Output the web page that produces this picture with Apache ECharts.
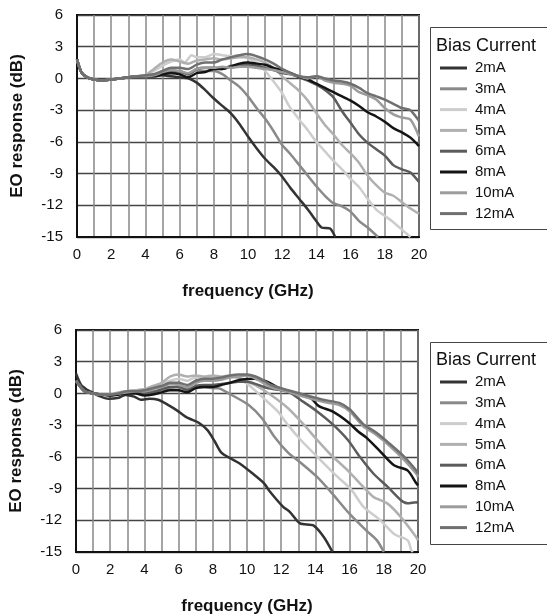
<!DOCTYPE html>
<html><head><meta charset="utf-8">
<script src="https://cdn.jsdelivr.net/npm/echarts@6/dist/echarts.min.js"></script>
<style>html,body{margin:0;padding:0;background:#fff}#c{width:547px;height:616px}</style>
</head><body><div id="c"></div>
<script>
const names = ['2mA','3mA','4mA','5mA','6mA','8mA','10mA','12mA'];
const colors = ['#333333','#8a8a8a','#cdcdcd','#b0b0b0','#5c5c5c','#141414','#9c9c9c','#707070'];
const xTicks = [0,2,4,6,8,10,12,14,16,18,20];
const yTicks = [-15,-12,-9,-6,-3,0,3,6];

// top panel [GHz, dB]
const top2mA = [[0,1.8],[0.25,0.6],[0.6,0.1],[1,-0.1],[1.5,-0.2],[2,-0.1],[2.5,0],[3,0.1],[3.5,0.2],[4,0.2],[4.5,0.2],[5,0.3],[5.5,0.2],[6,0.1],[6.5,0.0],[7,-0.4],[7.5,-1.1],[8,-1.9],[8.5,-2.6],[9,-3.3],[9.5,-4.3],[10,-5.5],[10.5,-6.6],[11,-7.6],[11.5,-8.4],[12,-9.3],[12.5,-10.4],[13,-11.4],[13.5,-12.4],[14,-13.5],[14.3,-14.1],[14.8,-14.2],[15.1,-15]];
const top3mA = [[0,1.8],[0.25,0.6],[0.6,0.1],[1,-0.1],[1.5,-0.2],[2,-0.1],[2.5,0],[3,0.1],[3.5,0.2],[4,0.2],[4.5,0.4],[5,0.5],[5.5,0.6],[6,0.6],[6.5,0.4],[7,0.8],[7.5,0.7],[8,0.7],[8.5,0.4],[9,-0.2],[9.5,-0.8],[10,-1.7],[10.5,-2.8],[11,-3.8],[11.5,-5.0],[12,-6.3],[12.5,-7.2],[13,-8.2],[13.5,-9.2],[14,-10.2],[14.5,-11.1],[15,-11.8],[15.5,-12.1],[16,-12.6],[16.5,-13.5],[17,-14.1],[17.6,-15]];
const top4mA = [[0,1.8],[0.25,0.6],[0.6,0.1],[1,-0.1],[1.5,-0.2],[2,-0.1],[2.5,0],[3,0.1],[3.5,0.2],[4,0.3],[4.5,0.7],[5,1.2],[5.5,1.6],[6,1.8],[6.3,1.5],[6.7,2.2],[7,2.0],[7.5,2.0],[8,2.3],[8.5,2.2],[9,2.1],[9.5,2.2],[10,1.9],[10.5,1.5],[11,0.7],[11.5,-0.3],[12,-1.4],[12.4,-2.6],[13,-3.9],[13.5,-4.9],[14,-6.0],[14.5,-6.9],[15,-7.8],[15.5,-8.6],[16,-9.5],[16.5,-10.3],[17,-11.4],[17.5,-12.4],[18,-13.0],[18.5,-13.6],[19,-14.3],[19.5,-15]];
const top5mA = [[0,1.8],[0.25,0.6],[0.6,0.1],[1,-0.1],[1.5,-0.2],[2,-0.1],[2.5,0],[3,0.1],[3.5,0.2],[4,0.3],[4.5,0.9],[5,1.5],[5.5,1.8],[6,1.6],[6.5,1.4],[7,1.7],[7.5,1.8],[8,1.9],[8.5,1.8],[9,1.9],[9.5,2.0],[10,2.0],[10.5,1.8],[11,1.5],[11.5,1.0],[12,0.2],[12.5,-0.5],[13,-1.2],[13.5,-2.1],[14,-3.3],[14.5,-4.4],[15,-5.3],[15.5,-6.3],[16,-7.1],[16.5,-8.0],[17,-9.2],[17.5,-10.1],[18,-10.8],[18.5,-11.1],[19,-11.7],[19.5,-12.3],[20,-12.8]];
const top6mA = [[0,1.8],[0.25,0.6],[0.6,0.1],[1,-0.1],[1.5,-0.2],[2,-0.1],[2.5,0],[3,0.1],[3.5,0.1],[4,0.1],[4.5,0.3],[5,0.5],[5.5,0.6],[6,0.7],[6.5,0.4],[7,0.9],[7.5,1.0],[8,1.0],[8.5,0.9],[9,1.2],[9.5,1.3],[10,1.3],[10.5,1.2],[11,1.0],[11.5,0.8],[12,0.5],[12.5,0.4],[13,0.1],[13.5,-0.2],[14,-0.6],[14.5,-1.1],[15,-1.8],[15.5,-3.1],[16,-4.2],[16.5,-5.3],[17,-6.1],[17.5,-6.7],[18,-7.3],[18.5,-8.2],[19,-8.6],[19.5,-8.9],[20,-9.8]];
const top8mA = [[0,1.8],[0.25,0.6],[0.6,0.1],[1,-0.1],[1.5,-0.2],[2,-0.1],[2.5,0],[3,0.1],[3.5,0.2],[4,0.2],[4.5,0.2],[5,0.4],[5.5,0.5],[6,0.4],[6.5,0.1],[7,0.5],[7.5,0.6],[8,0.9],[8.5,0.9],[9,1.1],[9.5,1.4],[10,1.5],[10.5,1.4],[11,1.3],[11.5,1.0],[12,0.8],[12.5,0.5],[13,0.15],[13.5,-0.1],[14,-0.5],[14.5,-0.9],[15,-1.3],[15.5,-1.7],[16,-2.1],[16.5,-2.6],[17,-3.2],[17.5,-3.6],[18,-4.1],[18.5,-4.7],[19,-5.1],[19.5,-5.6],[20,-6.4]];
const top10mA = [[0,1.8],[0.25,0.6],[0.6,0.1],[1,-0.1],[1.5,-0.2],[2,-0.1],[2.5,0],[3,0.1],[3.5,0.2],[4,0.2],[4.5,0.3],[5,0.6],[5.5,0.8],[6,0.7],[6.5,0.5],[7,0.9],[7.5,1.0],[8,1.0],[8.5,1.1],[9,1.0],[9.5,1.1],[10,1.1],[10.5,1.0],[11,0.9],[11.5,0.8],[12,0.6],[12.5,0.4],[13,0.2],[13.5,0.0],[14,0.2],[14.5,-0.2],[15,-0.4],[15.5,-0.5],[16,-0.7],[16.5,-1.3],[17,-1.6],[17.5,-2.0],[18,-2.8],[18.5,-3.4],[19,-3.7],[19.5,-3.9],[20,-5.5]];
const top12mA = [[0,1.8],[0.25,0.6],[0.6,0.1],[1,-0.1],[1.5,-0.2],[2,-0.1],[2.5,0],[3,0.1],[3.5,0.2],[4,0.3],[4.5,0.4],[5,0.7],[5.5,1.0],[6,1.0],[6.5,0.9],[7,1.3],[7.5,1.5],[8,1.5],[8.5,1.8],[9,2.0],[9.5,2.2],[10,2.3],[10.5,2.1],[11,1.8],[11.5,1.4],[12,0.9],[12.5,0.5],[13,0.2],[13.5,0.1],[14,0.2],[14.5,0.0],[15,-0.2],[15.5,-0.3],[16,-0.5],[16.5,-0.9],[17,-1.4],[17.5,-1.7],[18,-2.0],[18.5,-2.4],[19,-2.8],[19.5,-3.0],[20,-4.0]];

// bottom panel [GHz, dB]
const bot2mA = [[0,1.9],[0.3,0.8],[0.6,0.4],[0.9,0.15],[1.3,-0.2],[1.9,-0.5],[2.5,-0.4],[2.9,-0.15],[3.4,-0.3],[3.8,-0.6],[4.3,-0.5],[4.8,-0.6],[5.4,-1.1],[5.9,-1.6],[6.4,-2.2],[6.8,-2.5],[7.2,-2.8],[7.7,-3.5],[8.1,-4.5],[8.5,-5.6],[9.1,-6.2],[9.55,-6.6],[10.35,-7.6],[11,-8.5],[11.3,-9.2],[12.1,-10.7],[12.5,-11.2],[13.1,-12.3],[13.9,-12.5],[14.5,-13.6],[15.0,-15]];
const bot3mA = [[0,1.2],[0.5,0.2],[1,0],[1.5,-0.1],[2,-0.2],[2.5,0],[3,0.2],[3.5,0.3],[4,0.3],[4.5,0.2],[5,0.3],[5.5,0.5],[6,0.6],[6.5,0.4],[7,0.5],[7.5,0.6],[8,0.5],[8.3,0.5],[9.1,-0.15],[10.1,-1.1],[10.9,-2.4],[11.6,-4.1],[12.4,-5.6],[13.1,-6.5],[14.1,-7.9],[15,-9.5],[16,-11.4],[17,-13.0],[17.6,-13.9],[18,-15]];
const bot4mA = [[0,1.2],[0.5,0.2],[1,0],[1.5,-0.1],[2,-0.1],[2.5,0.1],[3,0.2],[3.5,0.3],[4,0.4],[4.5,0.6],[5,0.9],[5.5,1.2],[6,1.4],[6.5,1.2],[7,1.5],[7.5,1.5],[8,1.6],[8.5,1.5],[9,1.6],[9.5,1.4],[10.1,0.8],[11,-0.5],[11.8,-1.7],[12.4,-3],[13.2,-4.5],[14.3,-6.3],[15.3,-7.9],[16.1,-9.1],[16.8,-10.7],[17.8,-12],[18.6,-13.3],[19.4,-13.9],[19.6,-14.8],[19.7,-15]];
const bot5mA = [[0,1.2],[0.5,0.2],[1,0],[1.5,-0.1],[2,-0.1],[2.5,0.1],[3,0.2],[3.5,0.3],[4,0.4],[4.5,0.7],[5,1.0],[5.5,1.6],[6,1.8],[6.5,1.6],[7,1.7],[7.5,1.6],[8,1.7],[8.5,1.6],[9,1.7],[9.5,1.5],[10.45,0.8],[11.4,-0.15],[12.4,-1.4],[13.35,-3],[14.1,-4.4],[14.9,-5.8],[15.9,-7.3],[16.6,-8.5],[17.4,-9.8],[18.2,-10.4],[19,-11.7],[19.9,-13.6],[20,-13.9]];
const bot6mA = [[0,1.2],[0.5,0.2],[1,0],[1.5,-0.1],[2,-0.2],[2.5,-0.1],[3,0.1],[3.5,0.1],[4,0],[4.5,0.1],[5,0.4],[5.5,0.6],[6,0.6],[6.5,0.3],[7,0.7],[7.5,0.8],[8,0.8],[8.5,0.9],[9,1.0],[9.5,1.1],[10,1.1],[10.5,0.9],[11.2,0.5],[12.4,0.15],[13.3,-0.8],[14.1,-1.7],[15,-2.9],[15.9,-4.4],[16.6,-6],[17.4,-7.6],[18.2,-8.8],[19,-10.1],[19.4,-10.4],[19.9,-10.3],[20,-10.4]];
const bot8mA = [[0,1.2],[0.5,0.2],[1,0],[1.5,-0.1],[2,-0.2],[2.5,-0.1],[3,0],[3.5,0],[4,-0.2],[4.5,-0.1],[5,0.1],[5.5,0.3],[6,0.3],[6.5,0.1],[7,0.5],[7.5,0.6],[8,0.6],[8.5,0.8],[9,1.0],[9.6,1.3],[10.45,1.4],[10.75,1.3],[11.2,1.1],[11.9,0.5],[12.9,0],[13.7,-0.4],[14.2,-1.2],[15,-1.7],[15.9,-2.7],[16.5,-3.6],[17,-4.2],[17.8,-5.5],[18.6,-6.8],[19.4,-7.3],[19.9,-8.5],[20,-8.7]];
const bot10mA = [[0,1.2],[0.5,0.2],[1,0],[1.5,-0.1],[2,-0.1],[2.5,0],[3,0.1],[3.5,0.2],[4,0.2],[4.5,0.4],[5,0.6],[5.5,0.9],[6,0.8],[6.5,0.6],[7,1.0],[7.5,1.2],[8,1.2],[8.5,1.3],[9,1.5],[9.5,1.6],[10,1.7],[10.5,1.4],[11.4,0.6],[12.4,0.15],[13.3,-0.3],[14.45,-0.8],[15.4,-1.1],[16,-1.7],[16.8,-3.1],[17.55,-3.9],[18.3,-4.9],[19.2,-6.3],[19.9,-7.6],[20,-7.9]];
const bot12mA = [[0,1.2],[0.5,0.2],[1,0],[1.5,-0.1],[2,-0.1],[2.5,0],[3,0.2],[3.5,0.2],[4,0.3],[4.5,0.5],[5,0.7],[5.5,1.0],[6,1.0],[6.5,0.8],[7,1.2],[7.5,1.4],[8,1.4],[8.5,1.5],[9,1.7],[9.5,1.8],[10,1.8],[10.5,1.6],[11,1.2],[11.4,0.8],[12.4,0.3],[13.3,-0.1],[14.45,-0.6],[15.4,-0.9],[16,-1.5],[16.8,-2.9],[17.55,-3.7],[18.3,-4.7],[19.2,-6.0],[19.9,-7.3],[20,-7.6]];

const topData = [top2mA, top3mA, top4mA, top5mA, top6mA, top8mA, top10mA, top12mA];
const botData = [bot2mA, bot3mA, bot4mA, bot5mA, bot6mA, bot8mA, bot10mA, bot12mA];

const FONT = 'Liberation Sans, Arial, Helvetica, sans-serif';
const grids = [
  {left:77, top:15, width:342, height:222},
  {left:76, top:330, width:342, height:222}
];

function xAxis(i){
  return {type:'value', gridIndex:i, min:xTicks[0], max:xTicks[xTicks.length-1], interval:2,
    name:'frequency (GHz)', nameLocation:'middle', nameGap:46,
    nameTextStyle:{fontFamily:FONT, fontWeight:'bold', fontSize:17, color:'#111'},
    axisLine:{show:true, onZero:false, lineStyle:{color:'#111', width:2}},
    axisTick:{show:false},
    axisLabel:{fontFamily:FONT, fontSize:15, color:'#111', margin:10},
    splitLine:{show:true, lineStyle:{color:'#888', width:1.5}},
    minorTick:{show:false, splitNumber:2},
    minorSplitLine:{show:true, lineStyle:{color:'#888', width:1.5}}
  };
}
function yAxis(i){
  return {type:'value', gridIndex:i, min:yTicks[0], max:yTicks[yTicks.length-1], interval:3,
    name:'EO response (dB)', nameLocation:'middle', nameGap:51,
    nameTextStyle:{fontFamily:FONT, fontWeight:'bold', fontSize:17, color:'#111'},
    axisLine:{show:true, onZero:false, lineStyle:{color:'#111', width:2}},
    axisTick:{show:false},
    axisLabel:{fontFamily:FONT, fontSize:15, color:'#111', margin:14},
    splitLine:{show:true, lineStyle:{color:'#444', width:1.3}}
  };
}

const series = [];
[topData, botData].forEach((set, gi) => {
  set.forEach((d, k) => {
    series.push({type:'line', name:names[k], xAxisIndex:gi, yAxisIndex:gi, data:d,
      symbol:'none', smooth:0.25, clip:true,
      lineStyle:{color:colors[k], width:2.5}, itemStyle:{color:colors[k]}, z: 3});
  });
});

function legend(top){
  return {orient:'vertical', left:440, top:top, padding:0, itemGap:4.8,
    itemWidth:27, itemHeight:3, icon:'rect',
    textStyle:{fontFamily:FONT, fontSize:15, color:'#111', lineHeight:16, padding:[0,0,0,3]},
    data:names, selectedMode:false};
}

const chart = echarts.init(document.getElementById('c'), null, {renderer:'canvas'});
chart.setOption({
  backgroundColor:'#fff',
  animation:false,
  grid: grids.map(g => Object.assign({show:true, borderColor:'#111', borderWidth:2, backgroundColor:'transparent'}, g)),
  xAxis:[xAxis(0), xAxis(1)],
  yAxis:[yAxis(0), yAxis(1)],
  legend:[legend(60), legend(374)],
  title:[
    {text:'Bias Current', left:436, top:37, padding:0, textStyle:{fontFamily:FONT, fontSize:18, fontWeight:'normal', color:'#111'}},
    {text:'Bias Current', left:436, top:351, padding:0, textStyle:{fontFamily:FONT, fontSize:18, fontWeight:'normal', color:'#111'}}
  ],
  graphic:[
    {type:'rect', shape:{x:430.5, y:27.5, width:140, height:202}, style:{fill:'none', stroke:'#444', lineWidth:1}},
    {type:'rect', shape:{x:430.5, y:342.5, width:140, height:202}, style:{fill:'none', stroke:'#444', lineWidth:1}}
  ],
  series: series
});
</script></body></html>
